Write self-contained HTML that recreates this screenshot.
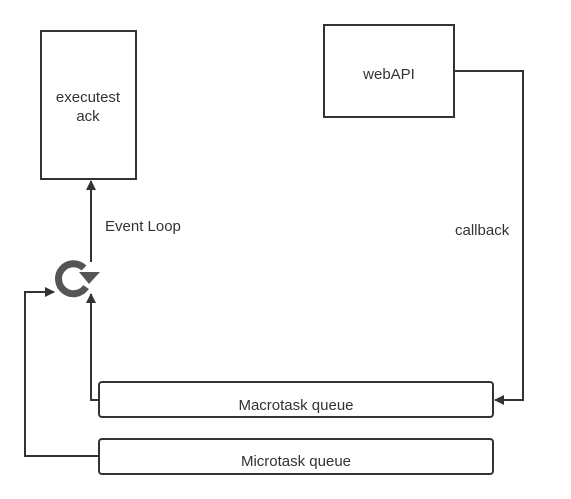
<!DOCTYPE html>
<html><head><style>body{margin:0;background:#fff}svg{display:block}text{font-family:"Liberation Sans",sans-serif;font-size:15px;fill:#333}</style></head>
<body>
<svg width="571" height="499" viewBox="0 0 571 499">
<defs><marker id="a" markerWidth="10" markerHeight="10" refX="9" refY="5" orient="auto" markerUnits="userSpaceOnUse"><path d="M0,0 L10,5 L0,10 Z" fill="#333"/></marker></defs>
<g fill="none" stroke="#333" stroke-width="2">
<rect x="41" y="31" width="95" height="148"/>
<rect x="324" y="25" width="130" height="92"/>
<rect x="99" y="382" width="394" height="35" rx="3"/>
<rect x="99" y="439" width="394" height="35" rx="3"/>
<path d="M455,71 H523 V400 H495" marker-end="url(#a)"/>
<path d="M91,262 V181" marker-end="url(#a)"/>
<path d="M99,400 H91 V294" marker-end="url(#a)"/>
<path d="M99,456 H25 V292 H54" marker-end="url(#a)"/>
</g>
<g>
<path d="M84,268 A15,15 0 1 0 86,287" fill="none" stroke="#555" stroke-width="7"/>
<path d="M79,272 L100,272 L89,284 Z" fill="#555"/>
</g>
<text x="88" y="102" text-anchor="middle">executest</text>
<text x="88" y="121" text-anchor="middle">ack</text>
<text x="389" y="79" text-anchor="middle">webAPI</text>
<text x="105" y="231">Event Loop</text>
<text x="455" y="235">callback</text>
<text x="296" y="410" text-anchor="middle">Macrotask queue</text>
<text x="296" y="466" text-anchor="middle">Microtask queue</text>
</svg>
</body></html>
